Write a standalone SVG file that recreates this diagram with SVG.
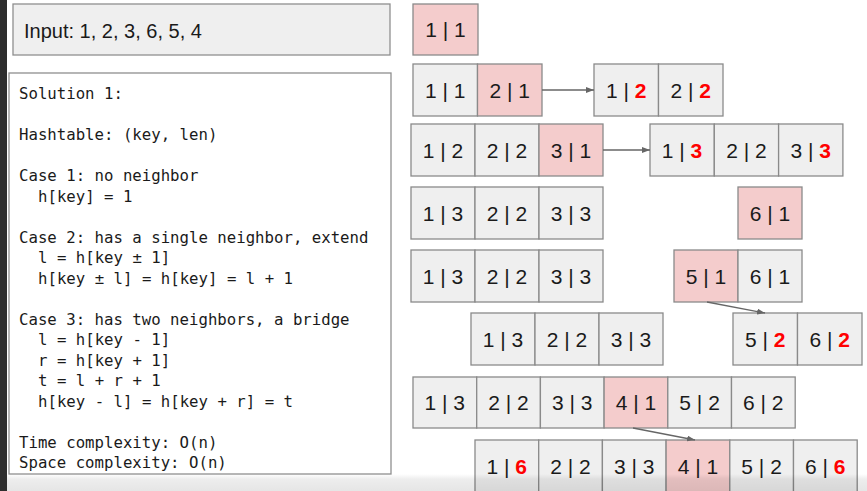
<svg xmlns="http://www.w3.org/2000/svg" width="867" height="491" viewBox="0 0 867 491">
<defs>
<style>
.panel{fill:#efefef;stroke:#8f8f8f;stroke-width:1.3}
.code{fill:#ffffff;stroke:#8f8f8f;stroke-width:1.3}
.c{fill:#efefef;stroke:#8a8a8a;stroke-width:1.3}
.p{fill:#f4cccc;stroke:#8a8a8a;stroke-width:1.3}
.t{font-family:"Liberation Sans",Arial,sans-serif;font-size:21px;fill:#1a1a1a;text-anchor:middle}
.r{fill:#ff0000;font-weight:bold}
.m{font-family:"DejaVu Sans Mono","Liberation Mono",monospace;font-size:15.7px;fill:#1a1a1a}
.in{font-family:"Liberation Sans",Arial,sans-serif;font-size:20px;fill:#1a1a1a}
.conn{stroke:#666666;stroke-width:1.3;fill:none;marker-end:url(#ah)}
</style>
<marker id="ah" markerWidth="8" markerHeight="6" refX="8" refY="3" orient="auto" markerUnits="userSpaceOnUse">
<path d="M0,0 L8,3 L0,6 Z" fill="#666666"/>
</marker>
<linearGradient id="shade" x1="0" y1="0" x2="0" y2="1">
<stop offset="0" stop-color="#000" stop-opacity="0"/>
<stop offset="0.3" stop-color="#000" stop-opacity="0.07"/>
<stop offset="1" stop-color="#000" stop-opacity="0.1"/>
</linearGradient>
</defs>
<rect width="867" height="491" fill="#ffffff"/>
<rect x="0" y="0" width="7" height="491" fill="#2e2e2e"/>

<g id="input">
<rect class="panel" x="13" y="4" width="377" height="51"/>
<text class="in" x="24" y="38">Input: 1, 2, 3, 6, 5, 4</text>
</g>

<g id="solution">
<rect class="code" x="9" y="73" width="382" height="401"/>
<text class="m" x="19" y="99">Solution 1:</text>
<text class="m" x="19" y="140">Hashtable: (key, len)</text>
<text class="m" x="19" y="181">Case 1: no neighbor</text>
<text class="m" x="38" y="201.5">h[key] = 1</text>
<text class="m" x="19" y="242.5">Case 2: has a single neighbor, extend</text>
<text class="m" x="38" y="263">l = h[key ± 1]</text>
<text class="m" x="38" y="283.5">h[key ± l] = h[key] = l + 1</text>
<text class="m" x="19" y="324.5">Case 3: has two neighbors, a bridge</text>
<text class="m" x="38" y="345">l = h[key - 1]</text>
<text class="m" x="38" y="365.5">r = h[key + 1]</text>
<text class="m" x="38" y="386">t = l + r + 1</text>
<text class="m" x="38" y="406.5">h[key - l] = h[key + r] = t</text>
<text class="m" x="19" y="447.5">Time complexity: O(n)</text>
<text class="m" x="19" y="468">Space complexity: O(n)</text>
</g>

<g id="row1">
<rect class="p" x="413" y="4" width="65" height="51"/>
<text class="t" x="445.5" y="37">1 | 1</text>
</g>

<g id="row2a">
<rect class="c" x="413" y="64" width="64.5" height="52"/>
<rect class="p" x="477.5" y="64" width="64.5" height="52"/>
<text class="t" x="445.3" y="97.5">1 | 1</text>
<text class="t" x="509.8" y="97.5">2 | 1</text>
</g>
<g id="row2b">
<rect class="c" x="594" y="64" width="64.5" height="52"/>
<rect class="c" x="658.5" y="64" width="64.5" height="52"/>
<text class="t" x="626.3" y="97.5">1 | <tspan class="r">2</tspan></text>
<text class="t" x="690.8" y="97.5">2 | <tspan class="r">2</tspan></text>
</g>

<g id="row3a">
<rect class="c" x="411" y="124" width="64" height="52"/>
<rect class="c" x="475" y="124" width="64" height="52"/>
<rect class="p" x="539" y="124" width="64" height="52"/>
<text class="t" x="443" y="157.5">1 | 2</text>
<text class="t" x="507" y="157.5">2 | 2</text>
<text class="t" x="571" y="157.5">3 | 1</text>
</g>
<g id="row3b">
<rect class="c" x="650" y="124" width="64.3" height="52"/>
<rect class="c" x="714.3" y="124" width="64.3" height="52"/>
<rect class="c" x="778.6" y="124" width="64.3" height="52"/>
<text class="t" x="682" y="157.5">1 | <tspan class="r">3</tspan></text>
<text class="t" x="746.5" y="157.5">2 | 2</text>
<text class="t" x="810.8" y="157.5">3 | <tspan class="r">3</tspan></text>
</g>

<g id="row4a">
<rect class="c" x="411" y="187" width="64" height="52"/>
<rect class="c" x="475" y="187" width="64" height="52"/>
<rect class="c" x="539" y="187" width="64" height="52"/>
<text class="t" x="443" y="220.5">1 | 3</text>
<text class="t" x="507" y="220.5">2 | 2</text>
<text class="t" x="571" y="220.5">3 | 3</text>
</g>
<g id="row4b">
<rect class="p" x="738" y="187" width="64" height="52"/>
<text class="t" x="770" y="220.5">6 | 1</text>
</g>

<g id="row5a">
<rect class="c" x="411" y="250" width="64" height="52"/>
<rect class="c" x="475" y="250" width="64" height="52"/>
<rect class="c" x="539" y="250" width="64" height="52"/>
<text class="t" x="443" y="283.5">1 | 3</text>
<text class="t" x="507" y="283.5">2 | 2</text>
<text class="t" x="571" y="283.5">3 | 3</text>
</g>
<g id="row5b">
<rect class="p" x="674" y="250" width="64" height="52"/>
<rect class="c" x="738" y="250" width="64" height="52"/>
<text class="t" x="706" y="283.5">5 | 1</text>
<text class="t" x="770" y="283.5">6 | 1</text>
</g>

<g id="row6a">
<rect class="c" x="471" y="313" width="64" height="52"/>
<rect class="c" x="535" y="313" width="64" height="52"/>
<rect class="c" x="599" y="313" width="64" height="52"/>
<text class="t" x="503" y="346.5">1 | 3</text>
<text class="t" x="567" y="346.5">2 | 2</text>
<text class="t" x="631" y="346.5">3 | 3</text>
</g>
<g id="row6b">
<rect class="c" x="733" y="313" width="64.5" height="52"/>
<rect class="c" x="797.5" y="313" width="64.5" height="52"/>
<text class="t" x="765.3" y="346.5">5 | <tspan class="r">2</tspan></text>
<text class="t" x="829.8" y="346.5">6 | <tspan class="r">2</tspan></text>
</g>

<g id="row7">
<rect class="c" x="413" y="377" width="63.7" height="51"/>
<rect class="c" x="476.7" y="377" width="63.7" height="51"/>
<rect class="c" x="540.4" y="377" width="63.7" height="51"/>
<rect class="p" x="604.1" y="377" width="63.7" height="51"/>
<rect class="c" x="667.8" y="377" width="63.7" height="51"/>
<rect class="c" x="731.5" y="377" width="63.7" height="51"/>
<text class="t" x="444.8" y="410">1 | 3</text>
<text class="t" x="508.5" y="410">2 | 2</text>
<text class="t" x="572.2" y="410">3 | 3</text>
<text class="t" x="635.9" y="410">4 | 1</text>
<text class="t" x="699.6" y="410">5 | 2</text>
<text class="t" x="763.3" y="410">6 | 2</text>
</g>

<g id="row8">
<rect class="c" x="475" y="440" width="63.7" height="52"/>
<rect class="c" x="538.7" y="440" width="63.7" height="52"/>
<rect class="c" x="602.4" y="440" width="63.7" height="52"/>
<rect class="p" x="666.1" y="440" width="63.7" height="52"/>
<rect class="c" x="729.8" y="440" width="63.7" height="52"/>
<rect class="c" x="793.5" y="440" width="63.7" height="52"/>
<text class="t" x="506.8" y="473.5">1 | <tspan class="r">6</tspan></text>
<text class="t" x="570.5" y="473.5">2 | 2</text>
<text class="t" x="634.2" y="473.5">3 | 3</text>
<text class="t" x="697.9" y="473.5">4 | 1</text>
<text class="t" x="761.6" y="473.5">5 | 2</text>
<text class="t" x="825.3" y="473.5">6 | <tspan class="r">6</tspan></text>
</g>

<g id="connectors">
<line class="conn" x1="542" y1="90" x2="594" y2="90"/>
<line class="conn" x1="603" y1="150" x2="650" y2="150"/>
<line class="conn" x1="707" y1="302" x2="765" y2="313"/>
<line class="conn" x1="633" y1="428" x2="695" y2="440"/>
</g>

<rect x="7" y="474" width="860" height="17" fill="url(#shade)"/>
</svg>
